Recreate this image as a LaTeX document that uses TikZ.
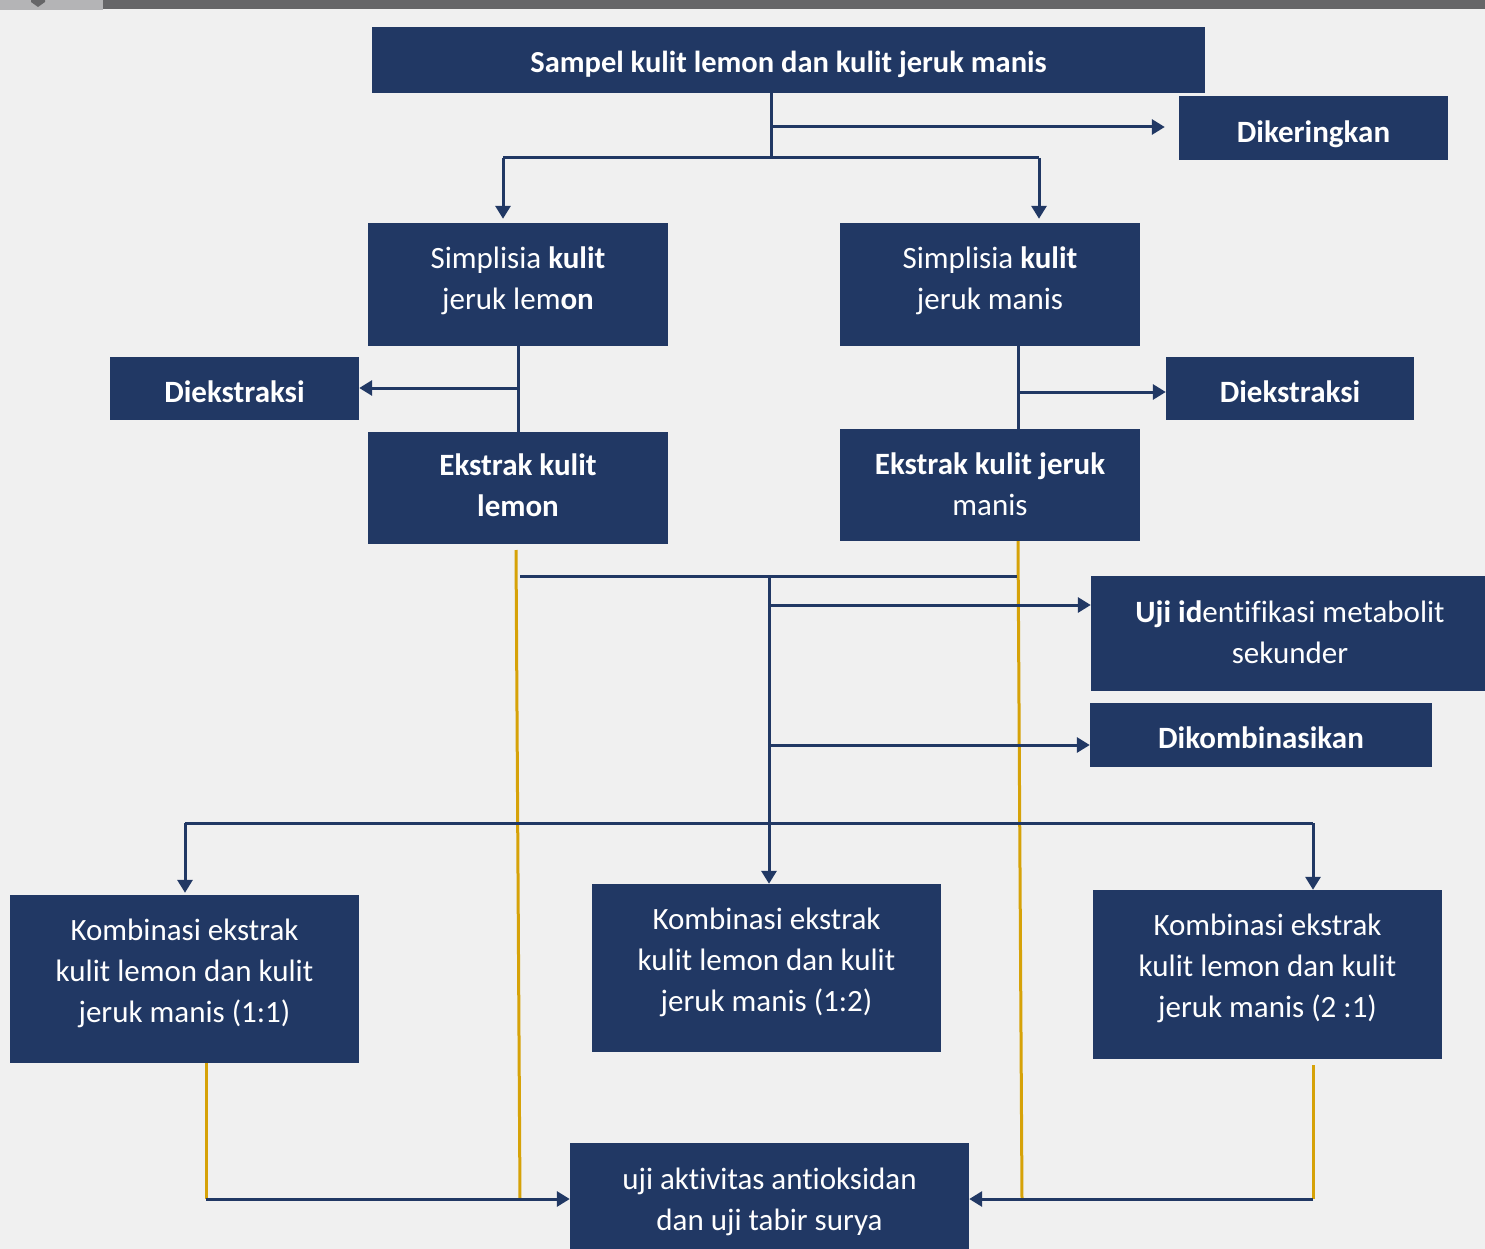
\documentclass[tikz,border=0pt]{standalone}
\usepackage{fontspec}
\setmainfont{Carlito}[Ligatures=NoCommon]
\usetikzlibrary{arrows.meta}
\definecolor{navy}{RGB}{33,56,100}
\definecolor{goldc}{RGB}{214,162,8}
\definecolor{bgc}{RGB}{240,240,240}
\definecolor{barc}{RGB}{102,102,104}
\definecolor{barl}{RGB}{180,180,182}
\newcommand{\tx}[2]{\raisebox{#1}[\height][\depth]{\begin{tabular}{@{}c@{}}#2\end{tabular}}}
\tikzset{
  box/.style={rectangle, fill=navy, text=white, inner sep=0pt, align=center, font=\fontsize{31}{41}\selectfont},
  conn/.style={draw=navy, line width=3pt},
  arr/.style={conn, -{Triangle[length=13pt,width=15pt]}},
  gold/.style={draw=goldc, line width=3pt},
}
\begin{document}
\begin{tikzpicture}[x=1pt,y=-1pt]
\fill[bgc] (0,0) rectangle (1485,1249);
\useasboundingbox (0,0) rectangle (1485,1249);
\fill[barc] (0,0) rectangle (1485,9);
\fill[barl] (0,0) rectangle (103,10);
\fill[barc] (31,0) -- (45,0) -- (45,2) -- (38,7) -- (31,2) -- cycle;

% boxes
\node[box, minimum width=833pt, minimum height=66pt] (top) at (788.5,60) {\fontsize{30.5}{41}\selectfont\bfseries\tx{-4pt}{Sampel kulit lemon dan kulit jeruk manis}};
\node[box, minimum width=269pt, minimum height=64pt] (dry) at (1313.5,128) {\bfseries\tx{-6pt}{Dikeringkan}};
\node[box, minimum width=300pt, minimum height=123pt] (simL) at (518,284.5) {\tx{4pt}{Simplisia \textbf{kulit}\\jeruk lem\textbf{on}}};
\node[box, minimum width=300pt, minimum height=123pt] (simR) at (990,284.5) {\tx{4pt}{Simplisia \textbf{kulit}\\jeruk manis}};
\node[box, minimum width=249pt, minimum height=63pt] (extL) at (234.5,388.5) {\bfseries\tx{-5.5pt}{Diekstraksi}};
\node[box, minimum width=248pt, minimum height=63pt] (extR) at (1290,388.5) {\bfseries\tx{-5.5pt}{Diekstraksi}};
\node[box, minimum width=300pt, minimum height=112pt] (eksL) at (518,488) {\bfseries\tx{0pt}{Ekstrak kulit\\lemon}};
\node[box, minimum width=300pt, minimum height=112pt] (eksR) at (990,485) {\tx{-2pt}{\textbf{Ekstrak kulit jeruk}\\manis}};
\node[box, minimum width=398pt, minimum height=115pt] (uji) at (1290,633.5) {\tx{-1pt}{\textbf{Uji id}entifikasi metabolit\\sekunder}};
\node[box, minimum width=342pt, minimum height=64pt] (komb) at (1261,735) {\bfseries\tx{-5pt}{Dikombinasikan}};
\node[box, minimum width=349pt, minimum height=168pt] (k11) at (184.5,979) {\tx{6pt}{Kombinasi ekstrak\\kulit lemon dan kulit\\jeruk manis (1:1)}};
\node[box, minimum width=349pt, minimum height=168pt] (k12) at (766.5,968) {\tx{6pt}{Kombinasi ekstrak\\kulit lemon dan kulit\\jeruk manis (1:2)}};
\node[box, minimum width=349pt, minimum height=169pt] (k21) at (1267.5,974.5) {\tx{6.5pt}{Kombinasi ekstrak\\kulit lemon dan kulit\\jeruk manis (2 :1)}};
\node[box, minimum width=399pt, minimum height=114pt] (act) at (769.5,1200) {\tx{-2pt}{uji aktivitas antioksidan\\dan uji tabir surya}};

% junction coordinates
\coordinate (j1) at (771,127);
\coordinate (j2) at (771,158);
\coordinate (aL) at (503,158);
\coordinate (aR) at (1039,158);
\coordinate (bL) at (518,388);
\coordinate (vR) at (1018,392);
\coordinate (h1) at (520,576);
\coordinate (h2) at (1017,576);
\coordinate (m0) at (769,576);
\coordinate (m1) at (769,605);
\coordinate (m2) at (769,745);
\coordinate (m3) at (769,823);
\coordinate (l3) at (185,823);
\coordinate (r3) at (1313,823);
\coordinate (gA) at (516,550);
\coordinate (gB) at (520,1199);
\coordinate (gC) at (1022,1199);
\coordinate (gD) at (206,1199);
\coordinate (gE) at (1313,1199);

% gold lines
\draw[gold] (gA) -- (gB);
\draw[gold] (vR |- eksR.south) -- (gC);
\draw[gold] (gD |- k11.south) -- (gD);
\draw[gold] (1313,1065) -- (gE);

% connectors
\draw[conn] (j1 |- top.south) -- (j2);
\draw[arr, shorten >=14pt] (j1) -- (j1 -| dry.west);
\draw[conn] (aL) -- (aR);
\draw[arr, shorten >=4pt] (aL) -- (aL |- simL.north);
\draw[arr, shorten >=4pt] (aR) -- (aR |- simR.north);
\draw[conn] (simL.south) -- (eksL.north);
\draw[arr] (bL) -- (bL -| extL.east);
\draw[conn] (vR |- simR.south) -- (vR |- eksR.north);
\draw[arr] (vR) -- (vR -| extR.west);
\draw[conn] (h1) -- (h2);
\draw[conn] (m0) -- (m3);
\draw[arr] (m1) -- (m1 -| uji.west);
\draw[arr] (m2) -- (m2 -| komb.west);
\draw[arr] (m3) -- (m3 |- k12.north);
\draw[conn] (l3) -- (r3);
\draw[arr, shorten >=2pt] (l3) -- (l3 |- k11.north);
\draw[arr] (r3) -- (r3 |- k21.north);
\draw[arr] (gD) -- (gD -| act.west);
\draw[arr] (gE) -- (gE -| act.east);
\end{tikzpicture}
\end{document}
